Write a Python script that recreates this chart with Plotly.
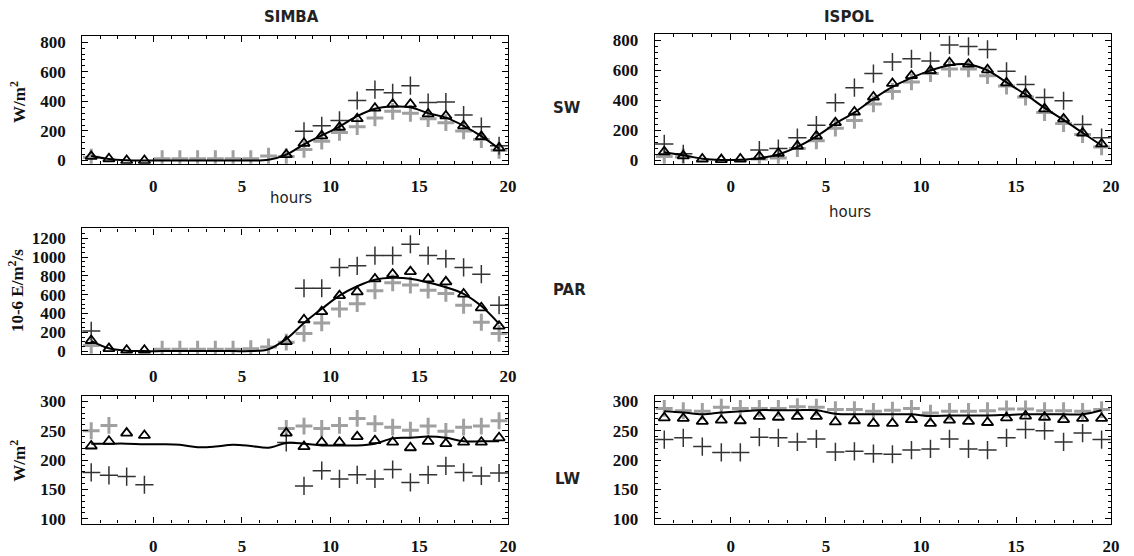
import plotly.graph_objects as go

W, H = 1134, 556

hours = [-3.5 + i for i in range(24)]
N = None

# SW (W/m2)
simba_sw_tri = [28, 12, 0, 0, N, N, N, N, N, N, N, 40, 117, 167, 225, 283, 354, 381, 381, 315, 302, 235, 162, 85]
simba_sw_blk = [N, N, N, N, N, N, N, N, N, N, N, N, 198, 235, 271, 406, 479, 458, 506, 392, 396, 308, 229, 100]
simba_sw_gry = [22, N, N, N, 12, 12, 12, 12, 12, 12, 30, 27, 75, 131, 190, 229, 288, 333, 319, 283, 256, 200, 142, 69]
simba_sw_line = [30, 10, 2, 0, 0, 0, 0, 0, 0, 0, 5, 40, 110, 170, 230, 300, 350, 365, 360, 320, 290, 235, 165, 80]

ispol_sw_tri = [58, 31, 10, 6, 10, 27, 48, 96, 163, 252, 323, 423, 513, 565, 598, 652, 642, 604, 517, 444, 344, 277, 183, 110]
ispol_sw_blk = [110, 44, N, N, N, 69, 79, 152, 235, 385, 485, 579, 656, 677, 663, 770, 760, 740, 594, 506, 419, 398, 240, 152]
ispol_sw_gry = [27, 23, N, N, N, 10, 17, 79, 131, 215, 267, 377, 460, 523, 579, 610, 610, 565, 496, 423, 319, 246, 173, 90]
ispol_sw_line = [55, 35, 12, 3, 5, 15, 40, 90, 160, 245, 320, 410, 490, 550, 600, 635, 640, 600, 520, 440, 350, 270, 185, 100]

# PAR (10-6 E/m2/s)
simba_par_tri = [113, 27, 10, 10, N, N, N, N, N, N, N, 102, 334, 420, 590, 631, 768, 819, 846, 768, 737, 607, 461, 266]
simba_par_blk = [215, N, N, N, N, N, N, N, N, N, N, N, 669, 669, 891, 908, 1017, 1017, 1137, 1017, 983, 891, 819, 488]
simba_par_gry = [61, N, N, N, 20, 20, 20, 20, 20, 25, 45, 95, 188, 300, 447, 505, 642, 727, 703, 648, 614, 488, 307, 188]
simba_par_line = [110, 30, 5, 0, 0, 0, 0, 0, 0, 0, 20, 130, 300, 450, 590, 690, 760, 780, 770, 730, 680, 610, 480, 290]

# LW (W/m2)
simba_lw_tri = [224, 232, 246, 242, N, N, N, N, N, N, N, 246, 223, 230.5, 230.5, 240, 233, 230.5, 221, 232, 228, 230.5, 230.5, 238]
simba_lw_blk = [179, 174, 172, 158, N, N, N, N, N, N, N, 230, 156, 182, 168, 175, 168, 184, 162, 175, 190, 179, 173, 178]
simba_lw_gry = [250, 259, N, N, N, N, N, N, N, N, N, 254, 258, 254, 259, 271, 262, 256, 251, 258, 249, 256, 258, 267]
simba_lw_line = [228, 228, 228, 227, 227, 226, 222, 223, 226, 224, 221, 229, 228, 225, 225, 225, 228, 237, 238, 240, 238, 232, 232, 232]

ispol_lw_tri = [272, 271, 266, 268, 267, 274.5, 273, 274.5, 274.5, 265, 267, 262.5, 262.5, 269, 262.5, 268, 266, 264, 272, 275, 273, 269, 271, 271]
ispol_lw_blk = [235, 238, 223, 213, 213, 239, 238, 231, 236, 214, 215, 211, 210, 217, 219, 236, 219, 217, 238, 252, 250, 231, 246, 235]
ispol_lw_gry = [288, 284, 283, 290, 288, 288, 288, 291, 290, 286, 286, 283, 285, 288, 280, 283, 283, 284, 287, 287, 284, 284, 283, 286]
ispol_lw_line = [283, 281, 278, 281, 283, 285, 285, 285, 285, 279, 278, 278, 278, 278, 275, 276, 276, 276, 277, 278, 278, 278, 278, 285]

x_ticks = [0, 5, 10, 15, 20]

panels = [
    # (suffix, box px (x0,x1,y0,y1), yrange, tick0, ydtick, yminor, tri, blk, gry, line)
    ("", (83, 512, 33, 163), [-22, 840], 0, 200, 40, simba_sw_tri, simba_sw_blk, simba_sw_gry, simba_sw_line),
    ("2", (660, 1120, 31, 163), [-22, 840], 0, 200, 40, ispol_sw_tri, ispol_sw_blk, ispol_sw_gry, ispol_sw_line),
    ("3", (83, 512, 229, 357), [-30, 1305], 0, 200, 50, simba_par_tri, simba_par_blk, simba_par_gry, simba_par_line),
    ("4", (83, 512, 400, 530), [92, 309], 100, 50, 10, simba_lw_tri, simba_lw_blk, simba_lw_gry, simba_lw_line),
    ("5", (660, 1120, 400, 530), [92, 309], 100, 50, 10, ispol_lw_tri, ispol_lw_blk, ispol_lw_gry, ispol_lw_line),
]

fig = go.Figure()
tickfont = dict(family="Liberation Serif", size=17, color="#111111", weight="bold")
layout = dict(
    width=W, height=H, margin=dict(l=0, r=0, t=0, b=0),
    paper_bgcolor="white", plot_bgcolor="white", showlegend=False,
)

for suf, (x0, x1, y0, y1), yr, t0, ydt, ymin, tri, blk, gry, line in panels:
    xa, ya = "x" + suf, "y" + suf
    fig.add_trace(go.Scatter(x=hours, y=gry, xaxis=xa, yaxis=ya, mode="markers",
                             marker=dict(symbol="cross-thin", size=12, line=dict(width=3, color="#a0a0a0"))))
    fig.add_trace(go.Scatter(x=hours, y=blk, xaxis=xa, yaxis=ya, mode="markers",
                             marker=dict(symbol="cross-thin", size=13, line=dict(width=1.5, color="#333333"))))
    fig.add_trace(go.Scatter(x=hours, y=line, xaxis=xa, yaxis=ya, mode="lines",
                             line=dict(color="black", width=2, shape="spline", smoothing=1.0)))
    fig.add_trace(go.Scatter(x=hours, y=tri, xaxis=xa, yaxis=ya, mode="markers",
                             marker=dict(symbol="triangle-up-open", size=10, color="black", line=dict(width=1.8, color="black"))))
    common = dict(showline=True, linecolor="black", linewidth=1.2, mirror="allticks",
                  ticks="inside", ticklen=6, tickcolor="black", showgrid=False, zeroline=False,
                  tickfont=tickfont)
    layout["xaxis" + suf] = dict(common, domain=[x0 / W, x1 / W], range=[-4, 20], tickvals=x_ticks,
                                 anchor=ya, ticklabelstandoff=7,
                                 minor=dict(ticks="inside", ticklen=3, dtick=1, tickcolor="black", showgrid=False))
    layout["yaxis" + suf] = dict(common, domain=[1 - y1 / H, 1 - y0 / H], range=yr, tick0=t0, dtick=ydt,
                                 anchor=xa, ticklabelstandoff=12,
                                 minor=dict(ticks="inside", ticklen=3, dtick=ymin, tickcolor="black", showgrid=False))

bold = dict(family="DejaVu Sans", size=15, color="#222222")
serif_bold = dict(family="Liberation Serif", size=17, color="#111111")
ann = []
def A(text, x, y, font, xanchor="center", **kw):
    d = dict(text=text, x=x / W, y=1 - y / H, xref="paper", yref="paper", showarrow=False,
             font=font, xanchor=xanchor, yanchor="middle")
    d.update(kw)
    ann.append(d)

A("<b>SIMBA</b>", 294, 13, bold)
A("<b>ISPOL</b>", 856, 13, bold)
A("<b>SW</b>", 555, 106, bold, xanchor="left")
A("<b>PAR</b>", 555, 292, bold, xanchor="left")
A("<b>LW</b>", 557, 485, bold, xanchor="left")
A("hours", 293, 198, dict(family="DejaVu Sans", size=15, color="#222222"))
A("hours", 857, 212, dict(family="DejaVu Sans", size=15, color="#222222"))
A("<b>W/m<sup>2</sup></b>", 18, 100, serif_bold, textangle=-90)
A("<b>10-6 E/m<sup>2</sup>/s</b>", 16, 292, serif_bold, textangle=-90)
A("<b>W/m<sup>2</sup></b>", 18, 466, serif_bold, textangle=-90)
layout["annotations"] = ann

fig.update_layout(**layout)
fig.write_html("out.html")
